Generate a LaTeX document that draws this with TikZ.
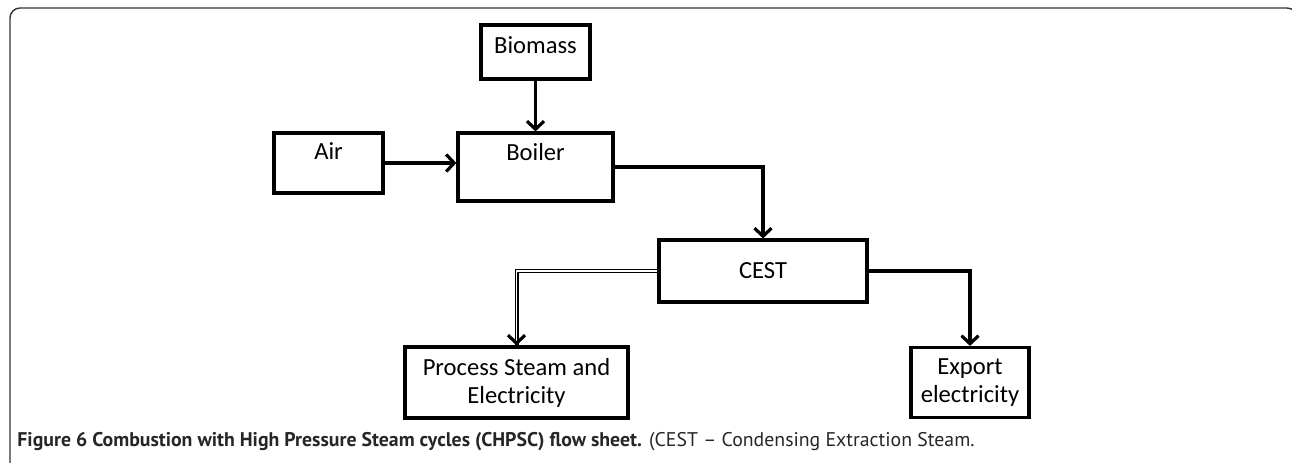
\documentclass[tikz,border=0pt]{standalone}
\usepackage{fontspec}
\setmainfont{Carlito}
\newfontfamily\capfont{PT Sans}
\usetikzlibrary{arrows.meta,positioning}

\begin{document}
\begin{tikzpicture}[x=0.5pt,y=-0.5pt,
  unit/.style={draw,line width=1.6pt,inner xsep=2pt,inner ysep=0pt,align=center,
    font=\fontsize{12.3}{14}\selectfont},
  flow/.style={line width=1.6pt,-{Straight Barb[length=4pt,width=8.5pt,line width=1.6pt]}},
  dbl/.style={double,line width=0.55pt,double distance=0.9pt},
  frame/.style={draw=black!80,line width=0.7pt,rounded corners=5pt}]
  \useasboundingbox (0,0) rectangle (1292,462);
  \draw[frame] (10,470) -- (10,8) -- (1297,8) -- (1297,470);
  \node[unit,minimum width=54.5pt,minimum height=27pt,text height=14pt,text depth=13pt] (biomass) at (535.5,52) {Biomass};
  \node[unit,minimum width=54.5pt,minimum height=30pt,text height=13pt,text depth=17pt] (air) at (328.5,163) {Air};
  \node[unit,minimum width=77.5pt,minimum height=34pt,text height=13.5pt,text depth=20.5pt] (boiler) at (535.5,167) {Boiler};
  \node[unit,minimum width=104pt,minimum height=31pt] (cest) at (763,271) {CEST};
  \node[unit,minimum width=111.5pt,minimum height=35.5pt] (proc) at (516.5,382.5) {Process Steam and\\Electricity};
  \node[unit,minimum width=59pt,minimum height=35pt] (export) at (970,382.5) {Export\\electricity};
  \draw[flow] (biomass) -- (boiler);
  \draw[flow] (air.east) -- (air.east -| boiler.west);
  \draw[flow] (boiler.east) -| (cest.north);
  \draw[flow] (cest.east) -| (export.north);
  \draw[dbl] (cest.west) -| (proc.north);
  \draw[flow] ([yshift=2pt]proc.north) -- (proc.north);
  \node[anchor=base west,inner sep=0pt,text=black!85,font=\capfont\fontsize{9.9}{11}\selectfont] (caption) at (17,446)
    {\textbf{Figure 6 Combustion with High Pressure Steam cycles (CHPSC) flow sheet.} (CEST – Condensing Extraction Steam.};
\end{tikzpicture}
\end{document}
